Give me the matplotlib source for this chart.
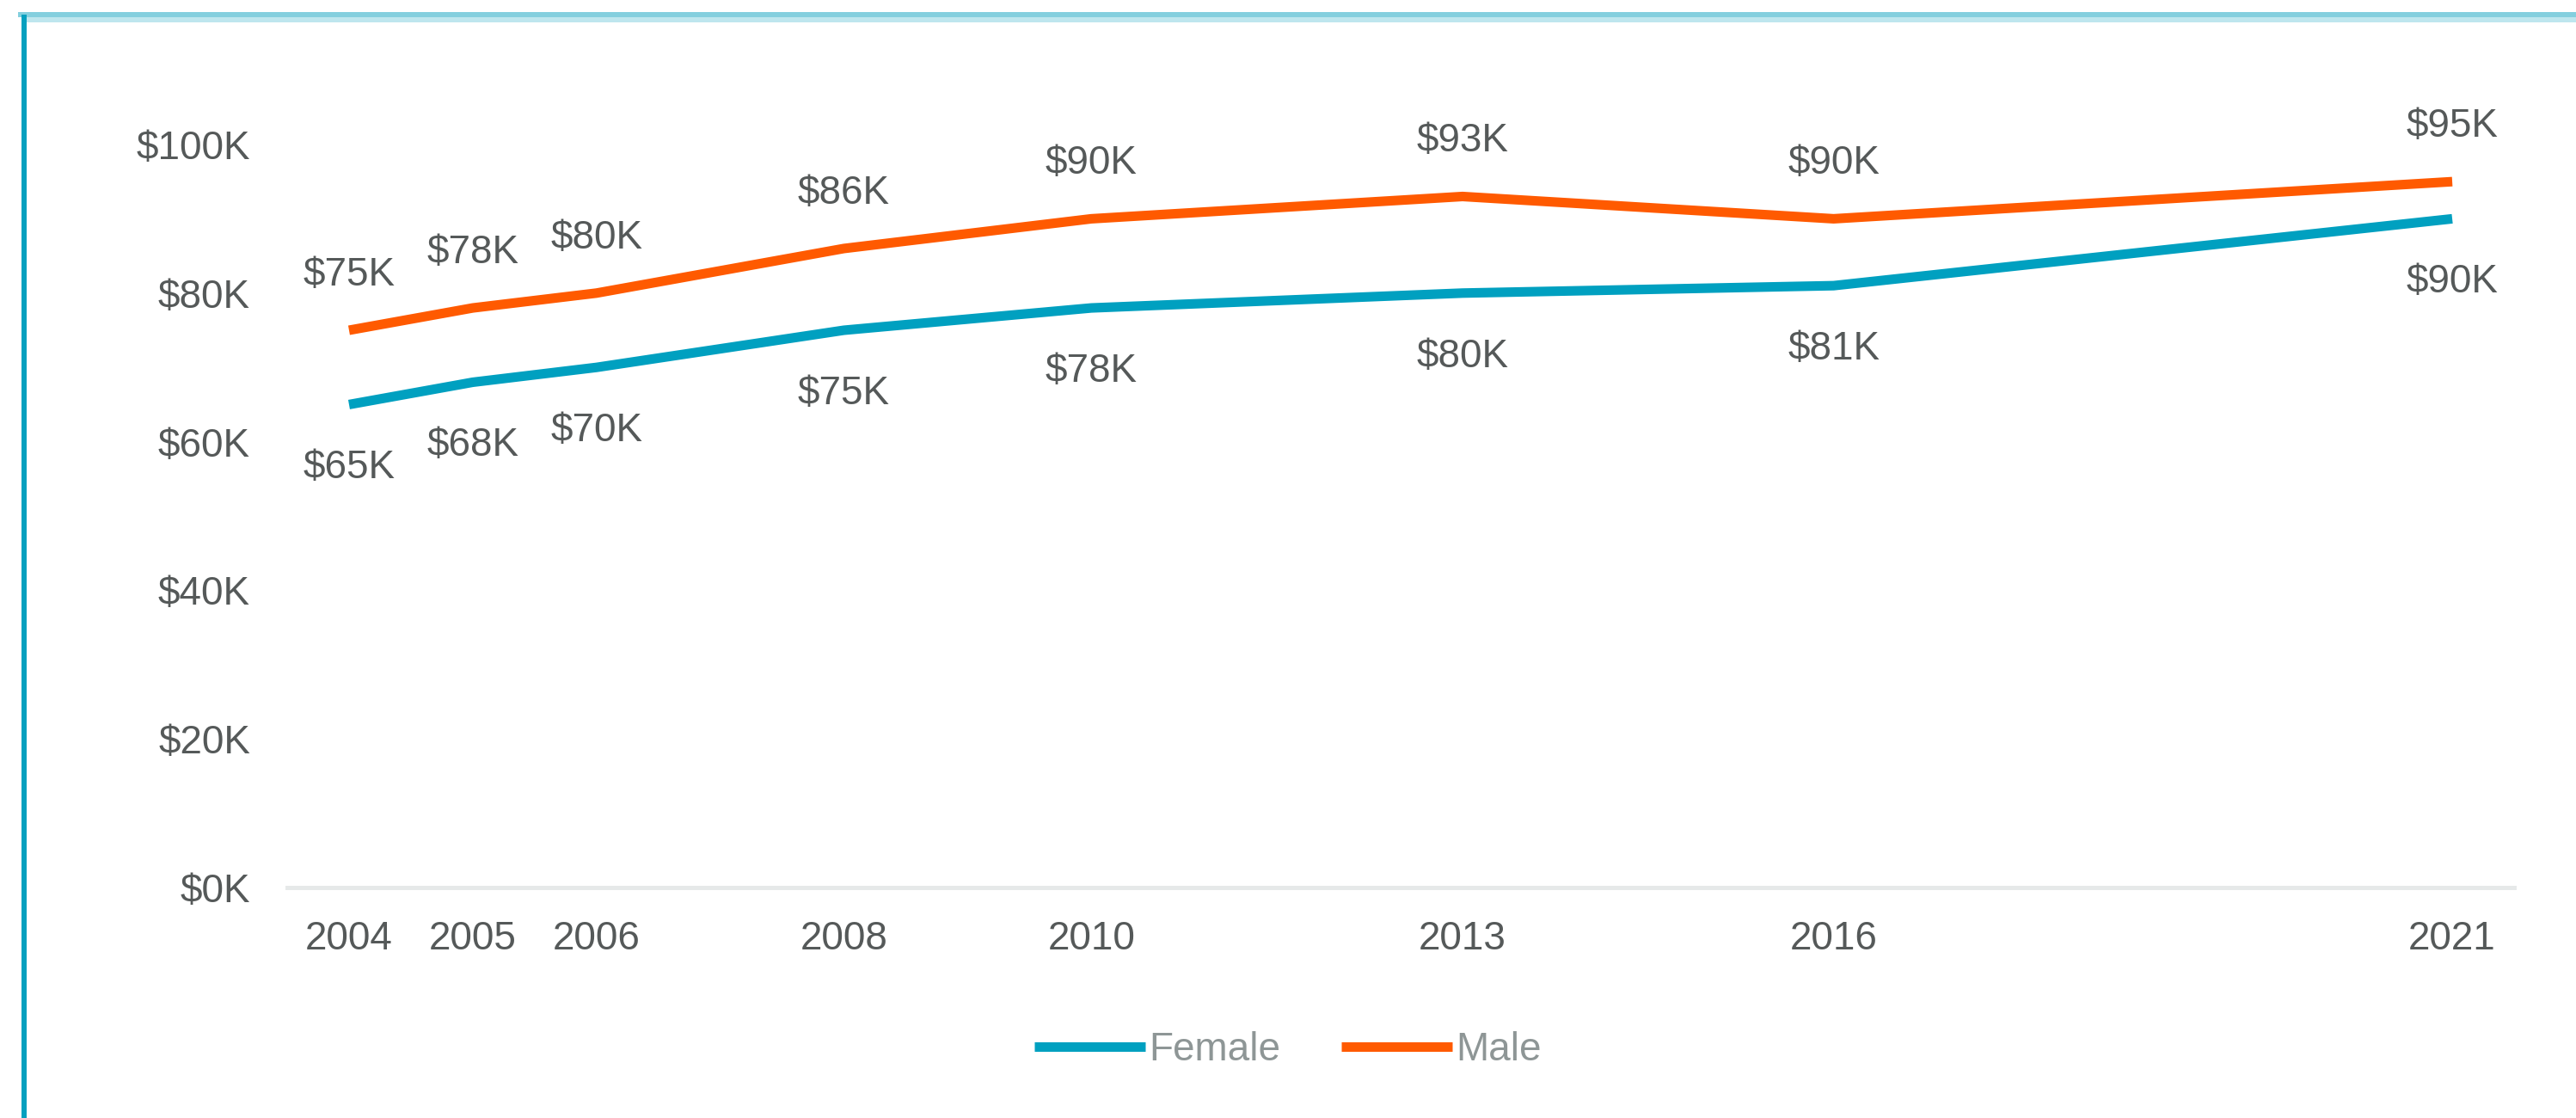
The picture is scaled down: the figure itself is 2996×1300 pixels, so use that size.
import matplotlib
matplotlib.use("Agg")
import matplotlib.pyplot as plt
from matplotlib.ticker import FuncFormatter, FixedLocator
from matplotlib.lines import Line2D

years = [2004, 2005, 2006, 2008, 2010, 2013, 2016, 2021]
female = [65, 68, 70, 75, 78, 80, 81, 90]   # $K
male = [75, 78, 80, 86, 90, 93, 90, 95]     # $K
yticks = [0, 20, 40, 60, 80, 100]
series_names = ["Female", "Male"]

FEMALE_C = "#00A0C0"
MALE_C = "#FF5A00"
TEXT_C = "#555959"
LEG_C = "#8E9696"
FS = 16.5

plt.rcParams['font.family'] = ['Liberation Sans', 'DejaVu Sans']

W, H, DPI = 2996, 1300, 200
fig = plt.figure(figsize=(W / DPI, H / DPI), dpi=DPI)
ax = fig.add_axes([334 / W, 1 - 1032 / H, (2924 - 334) / W, (1032 - 168) / H])

lf, = ax.plot(years, female, color=FEMALE_C, lw=4.0, solid_capstyle='butt',
              solid_joinstyle='round', label=series_names[0], zorder=3)
lm, = ax.plot(years, male, color=MALE_C, lw=4.0, solid_capstyle='butt',
              solid_joinstyle='round', label=series_names[1], zorder=3)

for x, v in zip(years, male):
    ax.annotate(f"${v}K", (x, v), xytext=(0, 64), textcoords='offset pixels',
                ha='center', va='center', fontsize=FS, color=TEXT_C)
for x, v in zip(years, female):
    ax.annotate(f"${v}K", (x, v), xytext=(0, -74), textcoords='offset pixels',
                ha='center', va='center', fontsize=FS, color=TEXT_C)

ax.set_xlim(2003.5, 2021.5)
ax.set_ylim(0, 100)
ax.xaxis.set_major_locator(FixedLocator(years))
ax.set_xticklabels([str(y) for y in years])
ax.yaxis.set_major_locator(FixedLocator(yticks))
ax.yaxis.set_major_formatter(FuncFormatter(lambda v, p: f"${int(v)}K"))
ax.tick_params(axis='both', length=0, labelsize=FS, labelcolor=TEXT_C)
ax.tick_params(axis='x', pad=13.5)
ax.tick_params(axis='y', pad=15.5)
for s in ['top', 'right', 'left']:
    ax.spines[s].set_visible(False)
ax.spines['bottom'].set_color('#E6E9E9')
ax.spines['bottom'].set_linewidth(1.8)
ax.spines['bottom'].set_zorder(1)

leg = fig.legend(handles=[lf, lm], loc='center', bbox_to_anchor=(0.5, 1 - 1221 / H),
                 ncol=2, frameon=False, fontsize=FS, handlelength=2.8,
                 handletextpad=0.1, columnspacing=1.55)
for t in leg.get_texts():
    t.set_color(LEG_C)

# frame lines (top light cyan, left darker cyan)
def px2fx(x):
    return x / W
def px2fy(y):
    return 1 - y / H

fig.add_artist(Line2D([px2fx(24), 1], [px2fy(17), px2fy(17)], color="#84CFDE",
                      lw=6 * 72 / DPI, transform=fig.transFigure))
fig.add_artist(Line2D([px2fx(30), 1], [px2fy(23), px2fy(23)], color="#BEE6EE",
                      lw=6 * 72 / DPI, transform=fig.transFigure))
fig.add_artist(Line2D([px2fx(28), px2fx(28)], [px2fy(20), 0], color="#05A0BF",
                      lw=6 * 72 / DPI, transform=fig.transFigure))

fig.savefig("out.png", dpi=DPI, facecolor='white')
